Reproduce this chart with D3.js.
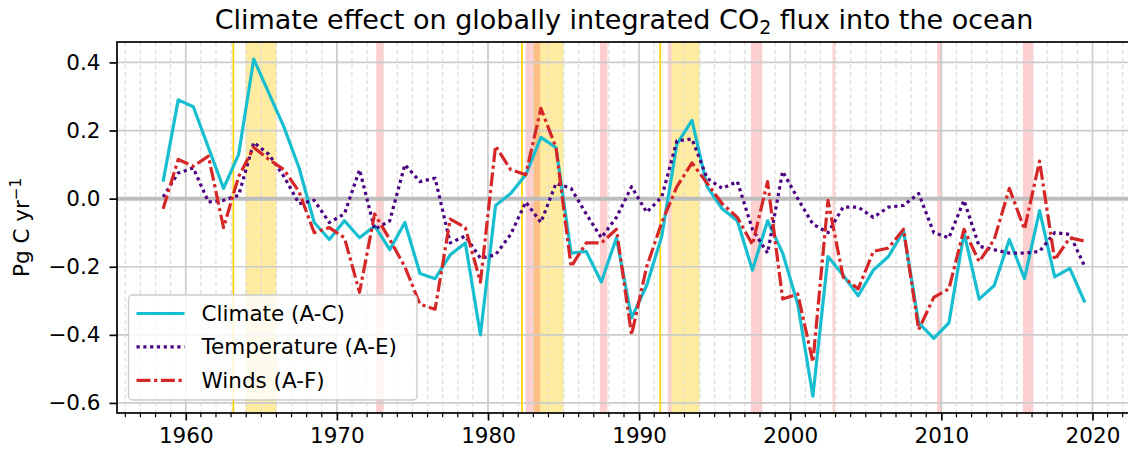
<!DOCTYPE html>
<html>
<head>
<meta charset="utf-8">
<script src="https://cdn.jsdelivr.net/npm/d3@7"></script>
<style>
  html, body { margin: 0; padding: 0; background: #fff; }
  svg { display: block; font-family: "DejaVu Sans", sans-serif; }
</style>
</head>
<body>
<svg id="chart" width="1128" height="453"></svg>
<script>
// Mid-year time stamps of the annual flux anomalies
const years = [1958.5, 1959.5, 1960.5, 1961.5, 1962.5, 1963.5, 1964.5, 1965.5, 1966.5, 1967.5,
  1968.5, 1969.5, 1970.5, 1971.5, 1972.5, 1973.5, 1974.5, 1975.5, 1976.5, 1977.5,
  1978.5, 1979.5, 1980.5, 1981.5, 1982.5, 1983.5, 1984.5, 1985.5, 1986.5, 1987.5,
  1988.5, 1989.5, 1990.5, 1991.5, 1992.5, 1993.5, 1994.5, 1995.5, 1996.5, 1997.5,
  1998.5, 1999.5, 2000.5, 2001.5, 2002.5, 2003.5, 2004.5, 2005.5, 2006.5, 2007.5,
  2008.5, 2009.5, 2010.5, 2011.5, 2012.5, 2013.5, 2014.5, 2015.5, 2016.5, 2017.5,
  2018.5, 2019.5];

// Pg C / yr
const climate = [0.05, 0.29, 0.27, 0.15, 0.03, 0.13, 0.41, 0.31, 0.21, 0.09,
  -0.07, -0.12, -0.065, -0.115, -0.08, -0.15, -0.07, -0.22, -0.235, -0.165,
  -0.13, -0.40, -0.02, 0.015, 0.07, 0.18, 0.15, -0.16, -0.155, -0.245,
  -0.115, -0.35, -0.255, -0.11, 0.16, 0.23, 0.035, -0.03, -0.065, -0.21,
  -0.065, -0.16, -0.31, -0.58, -0.17, -0.225, -0.285, -0.21, -0.17, -0.095,
  -0.365, -0.41, -0.365, -0.10, -0.295, -0.255, -0.12, -0.235, -0.035, -0.23,
  -0.205, -0.305];

const temperature = [0.005, 0.075, 0.09, -0.01, -0.005, 0.01, 0.165, 0.13, 0.065, -0.015,
  -0.005, -0.07, -0.045, 0.085, -0.09, -0.065, 0.10, 0.05, 0.06, -0.13,
  -0.11, -0.175, -0.165, -0.105, -0.01, -0.07, 0.045, 0.03, -0.045, -0.115,
  -0.055, 0.035, -0.04, 0.005, 0.17, 0.175, 0.06, 0.03, 0.05, -0.09,
  -0.16, 0.08, 0.0, -0.075, -0.1, -0.025, -0.025, -0.055, -0.025, -0.02,
  0.015, -0.1, -0.115, -0.005, -0.14, -0.15, -0.16, -0.16, -0.155, -0.1,
  -0.105, -0.2];

const winds = [-0.03, 0.115, 0.095, 0.125, -0.085, 0.065, 0.15, 0.115, 0.085, 0.02,
  -0.1, -0.085, -0.115, -0.275, -0.045, -0.12, -0.2, -0.31, -0.325, -0.06,
  -0.085, -0.245, 0.155, 0.085, 0.07, 0.265, 0.15, -0.2, -0.13, -0.13,
  -0.09, -0.40, -0.2, -0.07, 0.035, 0.105, 0.045, -0.015, -0.055, -0.135,
  0.05, -0.295, -0.28, -0.48, -0.005, -0.23, -0.265, -0.155, -0.145, -0.09,
  -0.385, -0.29, -0.265, -0.09, -0.185, -0.12, 0.03, -0.09, 0.11, -0.18,
  -0.115, -0.125];

// Shaded periods (start, end) and single-date markers
const yellowSpans = [[1963.95, 1966.0], [1983.0, 1985.0], [1992.15, 1994.0]];
const redSpans = [[1972.6, 1973.1], [1982.5, 1983.45], [1987.4, 1987.9], [1991.9, 1992.15],
  [1997.4, 1998.15], [2002.8, 2002.95], [2009.72, 2009.98], [2015.4, 2016.1]];
const goldLines = [1963.15, 1982.25, 1991.4];

const xMajorTicks = [1960, 1970, 1980, 1990, 2000, 2010, 2020];
const yTicks = [-0.6, -0.4, -0.2, 0.0, 0.2, 0.4];

const seriesNames = ["Climate (A-C)", "Temperature (A-E)", "Winds (A-F)"];

const svg = d3.select("#chart");
const pL = 117, pR = 1131, pT = 42, pB = 413;
const FS = 21.5;

const x = d3.scaleLinear().domain([1955.45, 2022.55]).range([pL, pR]);
const y = d3.scaleLinear().domain([-0.6295, 0.46]).range([pB, pT]);

const xMinorTicks = d3.range(1956, 2023, 1);

svg.append("defs").append("clipPath").attr("id", "plotclip")
  .append("rect").attr("x", pL).attr("y", pT).attr("width", pR - pL).attr("height", pB - pT);

const plot = svg.append("g").attr("clip-path", "url(#plotclip)");

// shaded periods
plot.append("g").selectAll("rect").data(yellowSpans).join("rect")
  .attr("x", d => x(d[0])).attr("width", d => x(d[1]) - x(d[0]))
  .attr("y", pT).attr("height", pB - pT)
  .attr("fill", "#ffd21f").attr("fill-opacity", 0.42);
plot.append("g").selectAll("rect").data(redSpans).join("rect")
  .attr("x", d => x(d[0])).attr("width", d => x(d[1]) - x(d[0]))
  .attr("y", pT).attr("height", pB - pT)
  .attr("fill", "#ff2020").attr("fill-opacity", 0.22);

// grid
plot.append("g").selectAll("line").data(xMinorTicks.filter(v => v % 10 !== 0)).join("line")
  .attr("x1", d => x(d)).attr("x2", d => x(d)).attr("y1", pT).attr("y2", pB)
  .attr("stroke", "#dcdcdc").attr("stroke-width", 1.2).attr("stroke-dasharray", "4.5,3");
plot.append("g").selectAll("line").data(xMajorTicks).join("line")
  .attr("x1", d => x(d)).attr("x2", d => x(d)).attr("y1", pT).attr("y2", pB)
  .attr("stroke", "#cccccc").attr("stroke-width", 1.7);
plot.append("g").selectAll("line").data(yTicks.filter(v => v !== 0)).join("line")
  .attr("x1", pL).attr("x2", pR).attr("y1", d => y(d)).attr("y2", d => y(d))
  .attr("stroke", "#cccccc").attr("stroke-width", 1.7);

// gold markers
plot.append("g").selectAll("line").data(goldLines).join("line")
  .attr("x1", d => x(d)).attr("x2", d => x(d)).attr("y1", pT).attr("y2", pB)
  .attr("stroke", "#ffd000").attr("stroke-width", 1.7);

// zero line
plot.append("line").attr("x1", pL).attr("x2", pR).attr("y1", y(0)).attr("y2", y(0))
  .attr("stroke", "#bdbdbd").attr("stroke-width", 4);

const line = d3.line().x((d, i) => x(years[i])).y(d => y(d));

const styles = [
  { data: climate, color: "#17becf", dash: null, width: 3.2 },
  { data: temperature, color: "#4b0082", dash: "3.2,3.6", width: 3.2 },
  { data: winds, color: "#d62728", dash: "14,3.6,3.2,3.6", width: 3.2 }
];

styles.forEach(s => {
  plot.append("path").datum(s.data).attr("d", line)
    .attr("fill", "none").attr("stroke", s.color).attr("stroke-width", s.width)
    .attr("stroke-dasharray", s.dash).attr("stroke-linejoin", "round");
});

// axes
const xAxis = d3.axisBottom(x).tickValues(xMajorTicks).tickFormat(d3.format("d")).tickSize(7.5).tickPadding(7);
const gx = svg.append("g").attr("transform", `translate(0,${pB})`).call(xAxis);
gx.select(".domain").remove();
gx.selectAll("text").attr("font-size", FS).attr("font-family", "DejaVu Sans").attr("fill", "#000");
gx.selectAll("line").attr("stroke", "#000").attr("stroke-width", 1.7);
const gxm = svg.append("g").attr("transform", `translate(0,${pB})`);
gxm.selectAll("line").data(xMinorTicks.filter(v => v % 10 !== 0)).join("line")
  .attr("x1", d => x(d)).attr("x2", d => x(d)).attr("y1", 0).attr("y2", 4.3)
  .attr("stroke", "#000").attr("stroke-width", 1.2);

const yAxis = d3.axisLeft(y).tickValues(yTicks).tickFormat(d => d3.format(".1f")(d)).tickSize(7.5).tickPadding(9);
const gy = svg.append("g").attr("transform", `translate(${pL},0)`).call(yAxis);
gy.select(".domain").remove();
gy.selectAll("text").attr("font-size", FS).attr("font-family", "DejaVu Sans").attr("fill", "#000");
gy.selectAll("line").attr("stroke", "#000").attr("stroke-width", 1.7);

// spines
svg.append("rect").attr("x", pL).attr("y", pT).attr("width", pR - pL).attr("height", pB - pT)
  .attr("fill", "none").attr("stroke", "#000").attr("stroke-width", 1.7);

// y label
const yl = svg.append("text").attr("transform", `translate(28.5,${(pT + pB) / 2}) rotate(-90)`)
  .attr("text-anchor", "middle").attr("font-size", FS).attr("fill", "#000");
yl.append("tspan").text("Pg C yr");
yl.append("tspan").attr("dy", -8).attr("font-size", 15).text("\u22121");

// title
const tt = svg.append("text").attr("x", (pL + pR) / 2).attr("y", 29)
  .attr("text-anchor", "middle").attr("font-size", 27).attr("fill", "#000");
tt.append("tspan").text("Climate effect on globally integrated CO");
tt.append("tspan").attr("dy", 5).attr("font-size", 19).text("2");
tt.append("tspan").attr("dy", -5).text(" flux into the ocean");

// legend
const lg = svg.append("g").attr("transform", "translate(128.5,295)");
lg.append("rect").attr("width", 288.5).attr("height", 105).attr("rx", 4)
  .attr("fill", "#fff").attr("fill-opacity", 0.8).attr("stroke", "#cccccc").attr("stroke-width", 1.4);
styles.forEach((s, i) => {
  const row = lg.append("g").attr("transform", `translate(0,${18.5 + i * 33.4})`);
  row.append("line").attr("x1", 8).attr("x2", 56).attr("y1", 0).attr("y2", 0)
    .attr("stroke", s.color).attr("stroke-width", s.width).attr("stroke-dasharray", s.dash);
  row.append("text").attr("x", 73).attr("y", 0).attr("dy", "0.35em")
    .attr("font-size", FS).attr("fill", "#000").text(seriesNames[i]);
});
</script>
</body>
</html>
